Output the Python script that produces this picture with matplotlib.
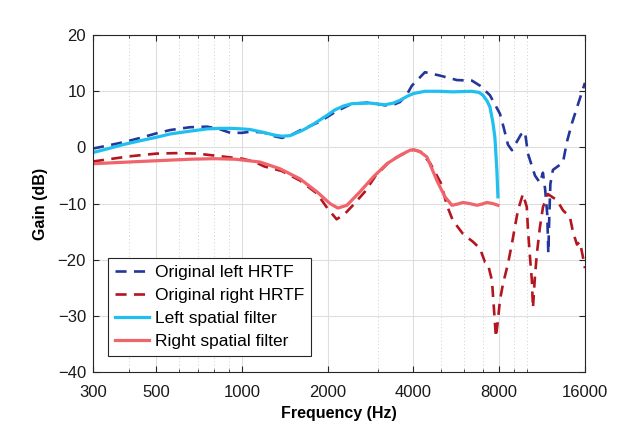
import numpy as np
import matplotlib
matplotlib.use("Agg")
import matplotlib.pyplot as plt
from matplotlib.ticker import FixedLocator, NullFormatter

plt.rcParams['font.family'] = ['Liberation Sans', 'DejaVu Sans']

# Original left HRTF (Hz, dB)
left_hrtf_f = [300, 382, 440, 500, 560, 657, 754, 830, 910, 1000, 1067, 1186, 1300, 1382, 1500,
               1624, 1879, 2121, 2433, 2815, 3177, 3400, 3589, 3800, 3950, 4389, 4956, 5685, 6417,
               6849, 7424, 8049, 8300, 8587, 8868, 9540, 9853, 10093, 10681, 11121, 11392, 11600,
               11800, 11900, 12000, 12100, 12352, 13393, 13831, 14402, 15200, 16000]
left_hrtf_g = [-0.2, 0.9, 1.7, 2.5, 3.1, 3.6, 3.7, 3.3, 2.6, 2.6, 2.8, 2.7, 2.0, 1.7, 2.3,
               3.2, 4.6, 6.3, 7.8, 8.0, 7.5, 7.6, 8.1, 9.5, 11.0, 13.4, 12.8, 12.0, 11.9,
               11.0, 9.3, 6.0, 3.5, 0.5, -0.5, 2.3, 2.8, -1.1, -5.0, -6.3, -4.5, -7.5,
               -12.0, -18.8, -12.0, -6.5, -4.0, -2.7, 1.0, 4.3, 8.0, 11.5]

# Original right HRTF
right_hrtf_f = [300, 400, 500, 600, 700, 754, 850, 1000, 1100, 1200, 1380, 1600, 1833, 2000, 2150,
                2300, 2452, 2700, 2950, 3330, 3800, 4000, 4250, 4590, 5000, 5240, 5500, 5970, 6470,
                6850, 7130, 7300, 7545, 7650, 7790, 7920, 8050, 8250, 8590, 8870, 9080, 9310, 9690,
                10000, 10100, 10260, 10420, 10510, 10680, 10850, 11120, 11400, 11860, 12760, 13400,
                14170, 14520, 15000, 15360, 15740, 16000]
right_hrtf_g = [-2.5, -1.6, -1.1, -1.0, -1.1, -1.3, -1.6, -2.0, -2.5, -3.4, -4.2, -5.9, -8.2, -10.9, -12.8,
                -11.8, -10.3, -7.9, -5.0, -2.3, -0.8, -0.4, -0.8, -2.9, -6.4, -10.3, -13.0, -15.4, -16.8,
                -18.0, -20.4, -20.7, -23.7, -28.0, -33.8, -30.8, -27.2, -24.3, -20.7, -17.1, -14.2, -11.2, -8.3,
                -10.6, -14.8, -19.5, -23.7, -28.6, -23.0, -18.9, -14.2, -10.6, -8.3, -9.4, -11.2,
                -12.4, -15.0, -17.3, -16.8, -19.5, -21.5]

# Left spatial filter
left_filt_f = [300, 340, 382, 440, 500, 560, 657, 754, 830, 920, 1000, 1067, 1186, 1300, 1382, 1475,
               1624, 1750, 1879, 2000, 2121, 2280, 2433, 2815, 3177, 3400, 3589, 3800, 4000, 4389,
               4900, 5500, 6400, 6800, 7016, 7250, 7424, 7600, 7727, 7850, 7920]
left_filt_g = [-0.9, -0.2, 0.5, 1.2, 1.8, 2.4, 2.9, 3.3, 3.4, 3.4, 3.3, 3.2, 2.7, 2.2, 2.0, 2.1,
               3.0, 3.9, 4.9, 5.8, 6.7, 7.4, 7.8, 7.9, 7.6, 7.9, 8.4, 9.1, 9.6, 10.0,
               10.0, 9.9, 10.0, 9.8, 9.3, 8.3, 7.2, 4.5, 1.8, -4.0, -8.8]

# Right spatial filter
right_filt_f = [300, 440, 657, 800, 950, 1067, 1157, 1360, 1599, 1833, 2037, 2173, 2336, 2596, 2884,
                3228, 3589, 3889, 4000, 4200, 4462, 4836, 5161, 5460, 5700, 5969, 6300, 6685, 6950,
                7245, 7600, 7920]
right_filt_g = [-2.9, -2.5, -2.1, -2.0, -2.1, -2.4, -2.6, -3.8, -5.6, -7.9, -10.0, -10.8, -10.3, -7.9, -5.3,
                -2.9, -1.4, -0.5, -0.4, -0.7, -1.7, -5.9, -8.8, -10.3, -10.1, -9.8, -10.0, -10.3, -10.1,
                -9.8, -10.0, -10.3]

xticks = [300, 500, 1000, 2000, 4000, 8000, 16000]
xminor = [400, 600, 700, 800, 900, 3000, 5000, 6000, 7000, 9000, 10000]
yticks = [-40, -30, -20, -10, 0, 10, 20]

fig = plt.figure(figsize=(6.31, 4.45), dpi=100)
ax = fig.add_axes([0.1474, 0.164, 0.7796, 0.757])

dash = (4.2, 2.8)
ax.plot(left_hrtf_f, left_hrtf_g, color='#25369a', lw=1.9, dashes=dash, label='Original left HRTF')
ax.plot(right_hrtf_f, right_hrtf_g, color='#b3161f', lw=1.9, dashes=dash, label='Original right HRTF')
ax.plot(left_filt_f, left_filt_g, color='#1fbfef', lw=2.3, label='Left spatial filter')
ax.plot(right_filt_f, right_filt_g, color='#f0646c', lw=2.3, label='Right spatial filter')

ax.set_xscale('log')
ax.set_xlim(300, 16000)
ax.set_ylim(-40, 20)
ax.xaxis.set_major_locator(FixedLocator(xticks))
ax.xaxis.set_minor_locator(FixedLocator(xminor))
ax.xaxis.set_minor_formatter(NullFormatter())
ax.set_xticklabels([str(t) for t in xticks])
ax.set_yticks(yticks)

ax.grid(True, which='major', color='#dedede', lw=0.8, ls='-')
ax.grid(True, which='minor', axis='x', color='#cfcfcf', lw=0.7, ls=(0, (1, 2.5)))
ax.set_axisbelow(True)

ax.tick_params(which='both', direction='in', top=True, right=True, colors='#262626',
               labelsize=12, labelcolor='#1a1a1a')
ax.tick_params(which='major', length=4, width=0.8)
ax.tick_params(which='minor', length=2, width=0.6)
ax.tick_params(axis='x', which='major', pad=9)
ax.tick_params(axis='y', which='major', pad=5)
for s in ax.spines.values():
    s.set_color('#262626')
    s.set_linewidth(0.8)

ax.set_xlabel('Frequency (Hz)', fontsize=11.5, fontweight='bold', labelpad=5)
ax.set_ylabel('Gain (dB)', fontsize=11.5, fontweight='bold', labelpad=7)

leg = ax.legend(loc='lower left', bbox_to_anchor=(0.03, 0.047), fontsize=12.5, fancybox=False,
                framealpha=1, edgecolor='#262626', borderpad=0.4, labelspacing=0.45,
                handlelength=2.0, handletextpad=0.3, borderaxespad=0)
leg.get_frame().set_linewidth(0.8)

fig.savefig('out.png', dpi=100)
